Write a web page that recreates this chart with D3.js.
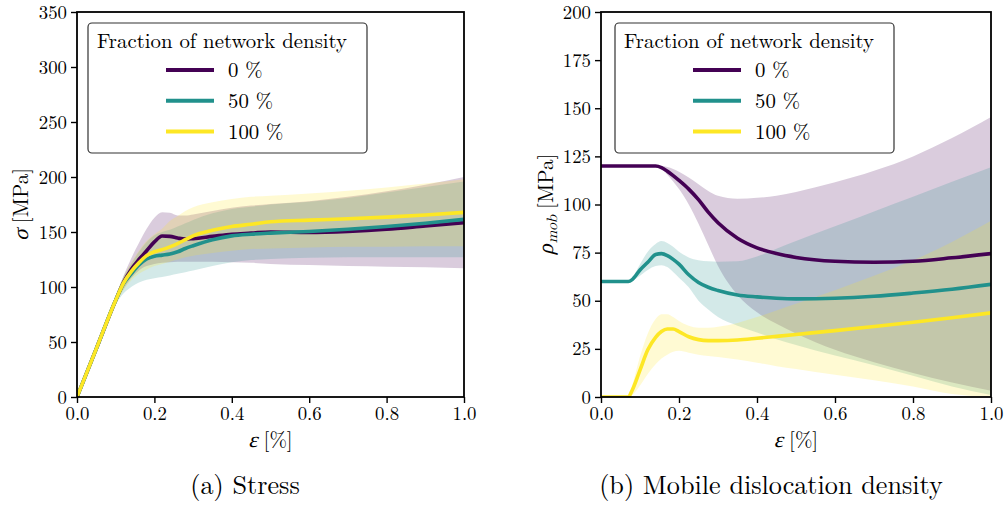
<!DOCTYPE html>
<html>
<head>
<meta charset="utf-8">
<script src="https://cdn.jsdelivr.net/npm/d3@7"></script>
<style>
  html, body { margin: 0; padding: 0; background: #fff; }
  svg { display: block; }
</style>
</head>
<body>
<svg id="fig" width="1007" height="511"></svg>
<script>
// ---- data ---------------------------------------------------------------
const seriesNames = ["0 %", "50 %", "100 %"];
const seriesColors = ["#440154", "#21918c", "#fde725"];
const legendTitle = "Fraction of network density";

// (a) stress vs strain
const strainA = [0, 0.05, 0.1, 0.12, 0.14, 0.16, 0.18, 0.2, 0.22, 0.24, 0.26, 0.28, 0.3, 0.35, 0.4, 0.45, 0.5, 0.6, 0.7, 0.8, 0.9, 1.0];
const stress0   = [0, 44, 88, 104, 116, 125, 133, 141, 146.3, 146, 144.5, 143.5, 144, 146, 148, 149, 150, 149.5, 150.5, 152.5, 155.5, 158.5];
const stress50  = [0, 44, 88, 103, 112, 120, 125.5, 128, 129, 130, 132, 135, 137.5, 143, 146.5, 148, 149, 150.5, 152.5, 155, 158, 161.5];
const stress100 = [0, 44, 88, 103.5, 114, 122, 128.5, 132, 134, 136.5, 139.5, 143, 146.5, 151.5, 155, 157, 159.3, 160.8, 162, 163.5, 165.5, 167.8];
const stressLo0   = [0, 43, 85, 98, 108, 115, 119, 121, 122, 122.5, 123, 123, 123, 123, 122.5, 122, 121, 120, 119, 118.5, 118, 117];
const stressHi0   = [0, 45, 91, 110, 126, 140, 153, 163, 168, 167.5, 165, 165, 166, 169, 172, 174, 175.5, 178, 182, 187, 193, 200];
const stressLo50  = [0, 43, 84, 94, 100, 104, 106.5, 108, 109, 110.5, 112, 113.5, 115, 119, 122.5, 124.5, 125.5, 126.5, 127, 127, 127, 127];
const stressHi50  = [0, 45, 92, 109, 121, 132, 141, 147, 150, 152, 155, 158, 161, 167, 171, 173, 175, 177.5, 181, 186, 191, 196];
const stressLo100 = [0, 43, 85, 97, 106, 112, 116, 119, 121, 123, 125, 127, 128.5, 131, 133, 134.5, 135, 136, 136.5, 136.5, 137, 137];
const stressHi100 = [0, 45, 92, 109, 122, 133, 142, 148, 153, 160, 164.5, 169, 172.5, 177, 180, 182, 183, 185, 187.5, 190.5, 194, 198];

// (b) mobile dislocation density vs strain
const strainB = [0, 0.05, 0.07, 0.08, 0.1, 0.12, 0.14, 0.155, 0.17, 0.185, 0.2, 0.225, 0.25, 0.275, 0.3, 0.35, 0.4, 0.45, 0.5, 0.6, 0.7, 0.8, 0.9, 1.0];
const rho0   = [120, 120, 120, 120, 120, 120, 120, 119.2, 117.3, 115, 112.5, 108, 102.5, 96, 90.5, 82.5, 77.5, 74.5, 72.5, 70.5, 70, 70.5, 72.3, 74.5];
const rho50  = [60, 60, 60, 61, 66, 70, 74, 74.5, 73.5, 71.5, 69, 63.5, 59.5, 57, 55.3, 53, 52, 51.3, 51, 51.3, 52.3, 54, 56, 58.5];
const rho100 = [0, 0, 0, 3.5, 14, 24.5, 31, 34, 35.3, 35.3, 34, 31.3, 29.8, 29.3, 29.3, 29.6, 30.5, 31.5, 32.5, 34.5, 36.6, 38.8, 41.2, 43.7];
const rhoLo0   = [120, 120, 120, 120, 120, 120, 120, 118.5, 115.5, 112, 108, 100, 90, 79, 68, 53, 44, 38, 33, 24.5, 18, 12.5, 7.5, 3.3];
const rhoHi0   = [120, 120, 120, 120, 120, 120, 120, 120, 119.5, 118.5, 117, 114, 110.5, 107, 104.5, 103, 103.5, 104.5, 106.5, 111.5, 117.5, 125, 134.5, 145.5];
const rhoLo50  = [60, 60, 60, 60.5, 63, 66, 68, 68.5, 67.5, 65, 62, 57, 50, 45.5, 41.5, 37, 33.5, 30, 27, 21.5, 16.5, 11, 5.5, 1];
const rhoHi50  = [60, 60, 60, 62, 69, 75.5, 79.5, 81, 80, 78, 75.5, 72.5, 71, 70.5, 70.3, 70.5, 73, 77, 81, 88.7, 96.4, 104, 111.8, 119.3];
const rhoLo100 = [0, 0, 0, 1, 6, 12, 17, 20, 22, 23.5, 24, 23, 22, 21.3, 20.8, 19.5, 17.8, 16, 14.5, 11.5, 8.7, 5.5, 1.5, 0];
const rhoHi100 = [0, 0, 0, 6, 21, 33, 40.5, 43, 43, 41.5, 39.5, 37, 36, 36, 36.5, 38.5, 41.5, 45, 48.5, 55.5, 63, 71, 80.5, 91.5];

const xTicks = [0, 0.2, 0.4, 0.6, 0.8, 1.0];
const stressTicks = [0, 50, 100, 150, 200, 250, 300, 350];
const rhoTicks = [0, 25, 50, 75, 100, 125, 150, 175, 200];

// ---- drawing ------------------------------------------------------------
const FONT = '"Latin Modern Roman", "Liberation Serif", serif';
const GREEK = '"Liberation Serif", "DejaVu Serif", serif';
const svg = d3.select("#fig").attr("font-family", FONT);
svg.append("rect").attr("width", 1007).attr("height", 511).attr("fill", "#fff");

function label(sel, size) {
  return sel.attr("font-family", FONT).style("font-family", FONT)
    .style("font-size", size + "px").style("font-weight", "400")
    .style("font-style", "normal").attr("fill", "#000");
}

// A label made of pieces laid out left to right; math pieces are slanted.
// The whole row is centred on (cx, cy), optionally rotated.
function mathLabel(parent, cx, cy, angle, pieces) {
  const outer = parent.append("g")
    .attr("transform", `translate(${cx},${cy}) rotate(${angle})`);
  const row = outer.append("g");
  let pos = 0;
  pieces.forEach(p => {
    const t = label(row.append("text"), p.size || 21).text(p.t);
    if (p.greek) t.attr("font-family", GREEK).style("font-family", GREEK);
    const w = t.node().getComputedTextLength();
    const dy = p.dy || 0;
    t.attr("transform", p.slant
      ? `translate(${pos},${dy}) skewX(-14)`
      : `translate(${pos},${dy})`);
    pos += w + (p.gap || 0);
  });
  row.attr("transform", `translate(${-pos / 2},0)`);
  return outer;
}

function drawPanel(opt) {
  const { left, right, top, bottom } = opt.box;
  const x = d3.scaleLinear().domain([0, 1]).range([left, right]);
  const y = d3.scaleLinear().domain(opt.yDomain).range([bottom, top]);

  const g = svg.append("g");
  const clipId = "clip-" + opt.id;
  svg.append("clipPath").attr("id", clipId)
    .append("rect").attr("x", left).attr("y", top)
    .attr("width", right - left).attr("height", bottom - top);

  const plot = g.append("g").attr("clip-path", `url(#${clipId})`);

  // shaded spread of each series
  opt.series.forEach((s, i) => {
    const pts = opt.strain.map((e, k) => ({ e, lo: s.lo[k], hi: s.hi[k] }));
    const area = d3.area()
      .x(d => x(d.e)).y0(d => y(d.lo)).y1(d => y(d.hi))
      .curve(d3.curveMonotoneX);
    plot.append("path").datum(pts)
      .attr("d", area)
      .attr("fill", seriesColors[i]).attr("fill-opacity", 0.2);
  });

  // mean curves
  opt.series.forEach((s, i) => {
    const pts = opt.strain.map((e, k) => ({ e, v: s.mean[k] }));
    const line = d3.line().x(d => x(d.e)).y(d => y(d.v)).curve(d3.curveMonotoneX);
    plot.append("path").datum(pts)
      .attr("d", line).attr("fill", "none")
      .attr("stroke", seriesColors[i]).attr("stroke-width", 3.6)
      .attr("stroke-linejoin", "round").attr("stroke-linecap", "butt");
  });

  // axes
  const xAxis = d3.axisBottom(x).tickValues(xTicks).tickFormat(d3.format(".1f"))
    .tickSize(6).tickPadding(4);
  const yAxis = d3.axisLeft(y).tickValues(opt.yTicks).tickFormat(d3.format("d"))
    .tickSize(6).tickPadding(4);
  const gx = g.append("g").attr("transform", `translate(0,${bottom})`).call(xAxis);
  const gy = g.append("g").attr("transform", `translate(${left},0)`).call(yAxis);
  [gx, gy].forEach(a => {
    a.attr("font-family", FONT).attr("font-size", null);
    a.select(".domain").remove();
    a.selectAll(".tick line").attr("stroke", "#000").attr("stroke-width", 1.4);
    label(a.selectAll(".tick text"), 18.8);
  });

  // frame
  g.append("rect").attr("x", left).attr("y", top)
    .attr("width", right - left).attr("height", bottom - top)
    .attr("fill", "none").attr("stroke", "#000").attr("stroke-width", 1.8);

  // axis labels
  mathLabel(g, (left + right) / 2, 447, 0, [
    { t: "ε", greek: true, slant: true, size: 22, gap: 6 },
    { t: "[%]" }
  ]);
  mathLabel(g, opt.yLabelX, (top + bottom) / 2, -90, opt.yLabel);

  // legend
  const lx = opt.legend.x, ly = opt.legend.y;
  const lg = g.append("g");
  lg.append("rect").attr("x", lx).attr("y", ly).attr("width", 279).attr("height", 130)
    .attr("rx", 4).attr("fill", "#fff").attr("fill-opacity", 0.8)
    .attr("stroke", "#333").attr("stroke-width", 1.2);
  label(lg.append("text"), 20.8).attr("x", lx + 9).attr("y", ly + 25).text(legendTitle);
  seriesNames.forEach((name, i) => {
    const yy = ly + 47 + i * 30.8;
    lg.append("line").attr("x1", lx + 78).attr("x2", lx + 126)
      .attr("y1", yy).attr("y2", yy)
      .attr("stroke", seriesColors[i]).attr("stroke-width", 4);
    label(lg.append("text"), 20.8).attr("x", lx + 140).attr("y", yy + 7).text(name);
  });

  // caption
  label(svg.append("text"), 26.2).attr("x", opt.caption.x).attr("y", 494)
    .attr("text-anchor", "middle").text(opt.caption.text);
}

drawPanel({
  id: "stress",
  box: { left: 77, right: 464, top: 12, bottom: 397 },
  yDomain: [0, 350], yTicks: stressTicks,
  strain: strainA,
  series: [
    { mean: stress0, lo: stressLo0, hi: stressHi0 },
    { mean: stress50, lo: stressLo50, hi: stressHi50 },
    { mean: stress100, lo: stressLo100, hi: stressHi100 }
  ],
  yLabel: [
    { t: "σ", greek: true, slant: true, size: 22, gap: 6 },
    { t: "[MPa]" }
  ],
  yLabelX: 28,
  legend: { x: 88, y: 23 },
  caption: { x: 245, text: "(a) Stress" }
});

drawPanel({
  id: "rho",
  box: { left: 601, right: 991, top: 12, bottom: 397 },
  yDomain: [0, 200], yTicks: rhoTicks,
  strain: strainB,
  series: [
    { mean: rho0, lo: rhoLo0, hi: rhoHi0 },
    { mean: rho50, lo: rhoLo50, hi: rhoHi50 },
    { mean: rho100, lo: rhoLo100, hi: rhoHi100 }
  ],
  yLabel: [
    { t: "ρ", greek: true, slant: true, size: 22, gap: 1 },
    { t: "mob", slant: true, size: 15, dy: 4, gap: 6 },
    { t: "[MPa]" }
  ],
  yLabelX: 553,
  legend: { x: 615, y: 23 },
  caption: { x: 771, text: "(b) Mobile dislocation density" }
});
</script>
</body>
</html>
